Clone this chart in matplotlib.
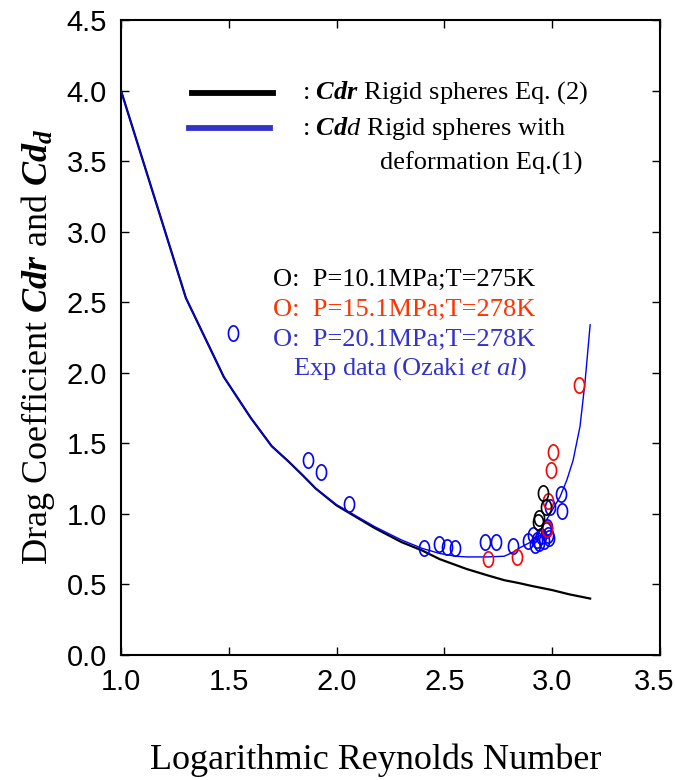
import numpy as np
import matplotlib
matplotlib.use("Agg")
from matplotlib import pyplot as plt
from matplotlib.lines import Line2D
from matplotlib.path import Path
from matplotlib.ticker import FormatStrFormatter
from matplotlib.transforms import ScaledTranslation

plt.rcParams["font.family"] = "Liberation Serif"
plt.rcParams["mathtext.fontset"] = "custom"
plt.rcParams["mathtext.rm"] = "Liberation Serif"
plt.rcParams["mathtext.it"] = "Liberation Serif:italic"
plt.rcParams["mathtext.bf"] = "Liberation Serif:bold"
plt.rcParams["mathtext.bfit"] = "Liberation Serif:italic:bold"

# Cdr, rigid spheres (black line)
log_re_r = [1.0, 1.301, 1.477, 1.602, 1.699, 1.778, 1.845, 1.903, 2.0, 2.176,
            2.301, 2.398, 2.477, 2.602, 2.699, 2.778, 2.845, 2.903, 3.0, 3.079, 3.176]
cd_r = [4.0, 2.53, 1.97, 1.68, 1.48, 1.37, 1.27, 1.18, 1.06, 0.90,
        0.80, 0.74, 0.68, 0.61, 0.565, 0.53, 0.51, 0.49, 0.46, 0.43, 0.40]

# Cdd, rigid spheres with deformation (blue line)
log_re_d = [1.0, 1.301, 1.477, 1.602, 1.699, 1.778, 1.845, 1.903, 2.0, 2.176,
            2.301, 2.398, 2.477, 2.55, 2.602, 2.699, 2.778, 2.82, 2.85, 2.9,
            2.94, 2.99, 3.036, 3.068, 3.097, 3.129, 3.152, 3.176]
cd_d = [4.0, 2.53, 1.97, 1.68, 1.48, 1.37, 1.27, 1.18, 1.065, 0.91,
        0.815, 0.755, 0.72, 0.70, 0.695, 0.695, 0.70, 0.73, 0.76, 0.80,
        0.87, 1.0, 1.12, 1.24, 1.38, 1.62, 1.93, 2.34]

# experimental data (Ozaki et al)
p10_x = [2.957, 2.97, 2.94, 2.932]
p10_y = [1.15, 1.05, 0.97, 0.94]
p15_x = [2.70, 2.835, 2.975, 2.98, 2.995, 3.004, 3.124]
p15_y = [0.68, 0.695, 0.89, 1.09, 1.31, 1.44, 1.91]
p20_x = [1.518, 1.867, 1.928, 2.058, 2.405, 2.475, 2.51, 2.55, 2.69, 2.74,
         2.82, 2.89, 2.91, 2.92, 2.93, 2.94, 2.95, 2.96, 2.97, 2.975,
         2.98, 2.985, 2.99, 3.04, 3.045]
p20_y = [2.28, 1.38, 1.30, 1.07, 0.76, 0.79, 0.765, 0.76, 0.80, 0.80,
         0.775, 0.81, 0.85, 0.78, 0.815, 0.795, 0.84, 0.81, 0.885, 0.91,
         0.85, 0.83, 1.05, 1.14, 1.02]

# tall open ellipse marker
t = np.linspace(0, 2 * np.pi, 60)
ellipse = Path(np.column_stack([0.66 * np.cos(t), np.sin(t)]))

W, H = 675, 780
fig = plt.figure(figsize=(W / 100, H / 100), dpi=100)
ax = fig.add_axes([121 / W, 1 - 655 / H, 539 / W, 635 / H])

ax.plot(log_re_r, cd_r, color="black", lw=1.6, zorder=2)
ax.plot(log_re_d, cd_d, color="blue", lw=1.0, zorder=3)

mk = dict(marker=ellipse, ms=11, mew=1.2, fillstyle="none", ls="none", zorder=4)
ax.plot(p20_x, p20_y, color="blue", **mk)
ax.plot(p15_x, p15_y, color="red", **mk)
ax.plot(p10_x, p10_y, color="black", **mk)

ax.set_xlim(1.0, 3.5)
ax.set_ylim(0.0, 4.5)
ax.set_xticks(np.arange(1.0, 3.51, 0.5))
ax.set_yticks(np.arange(0.0, 4.51, 0.5))
ax.xaxis.set_major_formatter(FormatStrFormatter("%.1f"))
ax.yaxis.set_major_formatter(FormatStrFormatter("%.1f"))
ax.tick_params(direction="in", length=6, width=1.0, top=True, right=True)
ax.tick_params(axis="x", pad=9)
ax.tick_params(axis="y", pad=10)
for lab in ax.get_xticklabels() + ax.get_yticklabels():
    lab.set_fontfamily("Liberation Sans")
    lab.set_fontsize(21)
# keep the last x label inside the figure
last = ax.get_xticklabels()[-1]
last.set_transform(last.get_transform() + ScaledTranslation(-6 / 100, 0, fig.dpi_scale_trans))
for sp in ax.spines.values():
    sp.set_linewidth(1.5)

fig.text(376 / W, 1 - 760 / H, "Logarithmic Reynolds Number", fontsize=26,
         ha="center", va="center")
fig.text(38 / W, 1 - 347 / H,
         r"Drag Coefficient $\mathbfit{Cdr}$ and $\mathbfit{Cd}_{\mathbfit{d}}$",
         fontsize=26, rotation=90, ha="center", va="center")

# legend
fig.add_artist(Line2D([192 / W, 273 / W], [1 - 93 / H] * 2, color="black", lw=4.2))
fig.add_artist(Line2D([189 / W, 270 / W], [1 - 128 / H] * 2, color="#3333cc", lw=4.2))
fs = 19
fig.text(302 / W, 1 - 93 / H, r": $\mathbfit{Cdr}$ Rigid spheres Eq. (2)",
         fontsize=fs, va="center", ha="left")
fig.text(302 / W, 1 - 128 / H, r": $\mathbfit{Cd}\mathit{d}$ Rigid spheres with",
         fontsize=fs, va="center", ha="left")
fig.text(380 / W, 1 - 163 / H, "deformation Eq.(1)",
         fontsize=fs, va="center", ha="left")

fig.text(273 / W, 1 - 280 / H, "O:  P=10.1MPa;T=275K", color="black",
         fontsize=fs, va="center", ha="left")
fig.text(273 / W, 1 - 310 / H, "O:  P=15.1MPa;T=278K", color="#ff3300",
         fontsize=fs, va="center", ha="left")
fig.text(273 / W, 1 - 340 / H, "O:  P=20.1MPa;T=278K", color="#3333cc",
         fontsize=fs, va="center", ha="left")
fig.text(293 / W, 1 - 369 / H, r"Exp data (Ozaki $\mathit{et}$ $\mathit{al}$)",
         color="#3333cc", fontsize=fs, va="center", ha="left")

fig.savefig("out.png", dpi=100)
